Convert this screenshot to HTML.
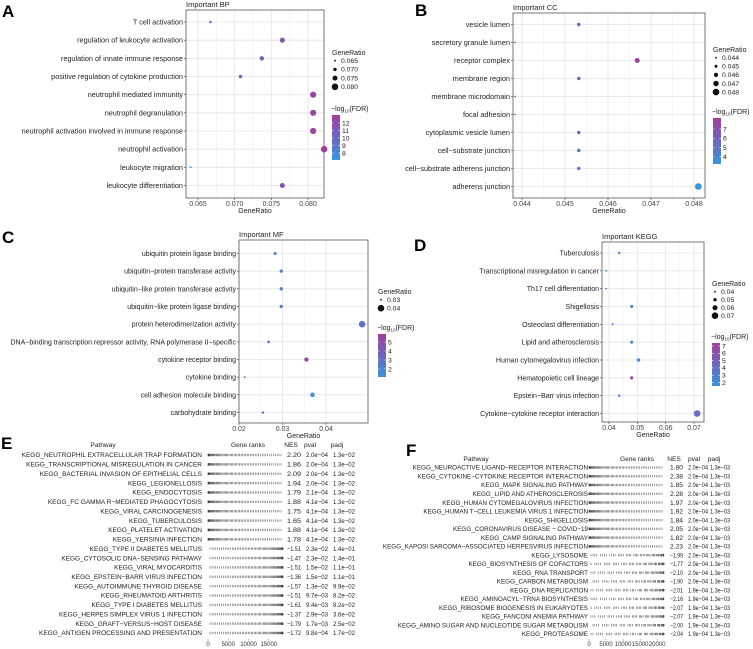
<!DOCTYPE html>
<html><head><meta charset="utf-8"><style>
html,body{margin:0;padding:0;background:#fff;}
svg{display:block;font-family:"Liberation Sans",Arial,sans-serif;}
</style></head><body>
<svg id="fig" width="753" height="649" viewBox="0 0 753 649" xmlns="http://www.w3.org/2000/svg">
<defs>
<linearGradient id="cg" x1="0" y1="1" x2="0" y2="0">
<stop offset="0" stop-color="#3a95db"/><stop offset="0.5" stop-color="#6b67c2"/><stop offset="1" stop-color="#a33d9c"/>
</linearGradient>
</defs>
<g font-weight="bold" font-size="17" fill="#000">
<text x="2" y="17">A</text>
<text x="415" y="16">B</text>
<text x="2" y="243">C</text>
<text x="414" y="251">D</text>
<text x="1" y="449">E</text>
<text x="406" y="456">F</text>
</g>
</svg>
<script>
// ---- Panel A (BP) ----
const aTerms=["T cell activation","regulation of leukocyte activation","regulation of innate immune response","positive regulation of cytokine production","neutrophil mediated immunity","neutrophil degranulation","neutrophil activation involved in immune response","neutrophil activation","leukocyte migration","leukocyte differentiation"];
const aRatio=[0.0667,0.0765,0.0737,0.0708,0.0807,0.0807,0.0807,0.0822,0.0640,0.0765];
const aFdr=[9,11.5,11,10,12.5,12.5,12.5,13,7.5,11.5];
const aTicks=[0.065,0.070,0.075,0.080];
const aSizeLeg=["0.065","0.070","0.075","0.080"];
const aColLeg=["12","11","10","9","8"];
// ---- Panel B (CC) ----
const bTerms=["vesicle lumen","secretory granule lumen","receptor complex","membrane region","membrane microdomain","focal adhesion","cytoplasmic vesicle lumen","cell−substrate junction","cell−substrate adherens junction","adherens junction"];
const bRatio=[0.04532,0.04384,0.04668,0.04532,0.04384,0.04384,0.04532,0.04532,0.04532,0.0481];
const bFdr=[5.5,5,7.5,5.5,5,4.5,5.5,4.5,4.5,3];
const bTicks=[0.044,0.045,0.046,0.047,0.048];
const bSizeLeg=["0.044","0.045","0.046","0.047","0.048"];
const bColLeg=["7","6","5","4"];
// ---- Panel C (MF) ----
const cTerms=["ubiquitin protein ligase binding","ubiquitin−protein transferase activity","ubiquitin−like protein transferase activity","ubiquitin−like protein ligase binding","protein heterodimerization activity","DNA−binding transcription repressor activity, RNA polymerase II−specific","cytokine receptor binding","cytokine binding","cell adhesion molecule binding","carbohydrate binding"];
const cRatio=[0.0283,0.0297,0.0297,0.0297,0.0483,0.0268,0.0355,0.0213,0.0369,0.0255];
const cFdr=[2.5,2.5,2.5,2.5,3,3,5.5,5,1.5,2.5];
const cTicks=[0.02,0.03,0.04];
const cSizeLeg=["0.03","0.04"];
const cColLeg=["5","4","3","2"];
// ---- Panel D (KEGG) ----
const dTerms=["Tuberculosis","Transcriptional misregulation in cancer","Th17 cell differentiation","Shigellosis","Osteoclast differentiation","Lipid and atherosclerosis","Human cytomegalovirus infection","Hematopoietic cell lineage","Epstein−Barr virus infection","Cytokine−cytokine receptor interaction"];
const dRatio=[0.0436,0.039,0.039,0.048,0.0413,0.048,0.0504,0.048,0.0436,0.0711];
const dFdr=[2.5,2,3,2.5,3.5,2.5,2,6.5,2.5,4];
const dTicks=[0.04,0.05,0.06,0.07];
const dSizeLeg=["0.04","0.05","0.06","0.07"];
const dColLeg=["7","6","5","4","3","2"];
// ---- Panel E (GSEA table) ----
const ePath=["KEGG_NEUTROPHIL EXTRACELLULAR TRAP FORMATION","KEGG_TRANSCRIPTIONAL MISREGULATION IN CANCER","KEGG_BACTERIAL INVASION OF EPITHELIAL CELLS","KEGG_LEGIONELLOSIS","KEGG_ENDOCYTOSIS","KEGG_FC GAMMA R−MEDIATED PHAGOCYTOSIS","KEGG_VIRAL CARCINOGENESIS","KEGG_TUBERCULOSIS","KEGG_PLATELET ACTIVATION","KEGG_YERSINIA INFECTION","KEGG_TYPE II DIABETES MELLITUS","KEGG_CYTOSOLIC DNA−SENSING PATHWAY","KEGG_VIRAL MYOCARDITIS","KEGG_EPSTEIN−BARR VIRUS INFECTION","KEGG_AUTOIMMUNE THYROID DISEASE","KEGG_RHEUMATOID ARTHRITIS","KEGG_TYPE I DIABETES MELLITUS","KEGG_HERPES SIMPLEX VIRUS 1 INFECTION","KEGG_GRAFT−VERSUS−HOST DISEASE","KEGG_ANTIGEN PROCESSING AND PRESENTATION"];
const eNes=["2.20","1.86","2.09","1.94","1.79","1.88","1.75","1.65","1.88","1.78","−1.51","−1.47","−1.51","−1.36","−1.57","−1.51","−1.61","−1.37","−1.79","−1.72"];
const ePval=["2.0e−04","2.0e−04","2.0e−04","2.0e−04","2.1e−04","4.1e−04","4.1e−04","4.1e−04","4.1e−04","4.1e−04","2.3e−02","2.3e−02","1.5e−02","1.5e−02","1.3e−02","9.7e−03","9.4e−03","2.9e−03","1.7e−03","9.8e−04"];
const ePadj=["1.3e−02","1.3e−02","1.3e−02","1.3e−02","1.3e−02","1.3e−02","1.3e−02","1.3e−02","1.3e−02","1.3e−02","1.4e−01","1.4e−01","1.1e−01","1.1e−01","9.9e−02","8.2e−02","8.2e−02","3.6e−02","2.5e−02","1.7e−02"];
const eTicks=[0,5000,10000,15000];
// ---- Panel F (GSEA table) ----
const fPath=["KEGG_NEUROACTIVE LIGAND−RECEPTOR INTERACTION","KEGG_CYTOKINE−CYTOKINE RECEPTOR INTERACTION","KEGG_MAPK SIGNALING PATHWAY","KEGG_LIPID AND ATHEROSCLEROSIS","KEGG_HUMAN CYTOMEGALOVIRUS INFECTION","KEGG_HUMAN T−CELL LEUKEMIA VIRUS 1 INFECTION","KEGG_SHIGELLOSIS","KEGG_CORONAVIRUS DISEASE − COVID−19","KEGG_CAMP SIGNALING PATHWAY","KEGG_KAPOSI SARCOMA−ASSOCIATED HERPESVIRUS INFECTION","KEGG_LYSOSOME","KEGG_BIOSYNTHESIS OF COFACTORS","KEGG_RNA TRANSPORT","KEGG_CARBON METABOLISM","KEGG_DNA REPLICATION","KEGG_AMINOACYL−TRNA BIOSYNTHESIS","KEGG_RIBOSOME BIOGENESIS IN EUKARYOTES","KEGG_FANCONI ANEMIA PATHWAY","KEGG_AMINO SUGAR AND NUCLEOTIDE SUGAR METABOLISM","KEGG_PROTEASOME"];
const fNes=["1.80","2.38","1.85","2.28","1.97","1.92","1.84","2.05","1.82","2.23","−1.99","−1.77","−2.10","−1.90","−2.01","−2.16","−2.07","−2.07","−2.00","−2.04"];
const fPval=["2.0e−04","2.0e−04","2.0e−04","2.0e−04","2.0e−04","2.0e−04","2.0e−04","2.0e−04","2.0e−04","2.0e−04","2.0e−04","2.0e−04","2.0e−04","2.0e−04","1.9e−04","1.9e−04","1.9e−04","1.9e−04","1.9e−04","1.9e−04"];
const fPadj=["1.3e−03","1.3e−03","1.3e−03","1.3e−03","1.3e−03","1.3e−03","1.3e−03","1.3e−03","1.3e−03","1.3e−03","1.3e−03","1.3e−03","1.3e−03","1.3e−03","1.3e−03","1.3e−03","1.3e−03","1.3e−03","1.3e−03","1.3e−03"];
const fTicks=[0,5000,10000,15000,20000];

const NS="http://www.w3.org/2000/svg";
const svg=document.getElementById('fig');
function mk(tag,attrs,parent,text){const e=document.createElementNS(NS,tag);for(const k in attrs)e.setAttribute(k,attrs[k]);if(text!==undefined)e.textContent=text;(parent||svg).appendChild(e);return e;}
function lerp(a,b,t){return a+(b-a)*t;}
function colorFor(v,lo,hi){
  let t=Math.max(0,Math.min(1,(v-lo)/(hi-lo)));
  const s=[[58,149,219],[107,103,194],[163,61,156]];
  let c;if(t<0.5){const u=t*2;c=s[0].map((x,i)=>Math.round(lerp(x,s[1][i],u)));}else{const u=(t-0.5)*2;c=s[1].map((x,i)=>Math.round(lerp(x,s[2][i],u)));}
  return 'rgb('+c.join(',')+')';
}
function dotPanel(p){
  const g=mk('g',{});
  
  
  const xs=v=>p.x0+(v-p.d0)/(p.d1-p.d0)*(p.x1-p.x0);
  const n=p.terms.length;
  const ys=i=>p.yFirst+i*(p.yLast-p.yFirst)/(n-1);
  mk('rect',{x:p.bx0,y:p.by0,width:p.bx1-p.bx0,height:p.by1-p.by0,fill:'#fff'},g);
  for(let k=0;k<p.ticks.length-1;k++){const mx=xs((p.ticks[k]+p.ticks[k+1])/2);mk('line',{x1:mx,x2:mx,y1:p.by0,y2:p.by1,stroke:'#f0f0f0','stroke-width':0.6},g);}
  p.ticks.forEach(t=>{const x=xs(t);const l=mk('line',{x1:x,x2:x,y1:p.by0,y2:p.by1,stroke:'#e4e4e4','stroke-width':0.8},g);
    mk('line',{x1:x,x2:x,y1:p.by1,y2:p.by1+2,stroke:'#333','stroke-width':0.6},g);
    const tl=mk('text',{x:x,y:p.by1+8,'font-size':7,'text-anchor':'middle',fill:'#444'},g,p.tickFmt(t));});
  p.terms.forEach((t,i)=>{const y=ys(i);
    mk('line',{x1:p.bx0,x2:p.bx1,y1:y,y2:y,stroke:'#e4e4e4','stroke-width':0.8},g);
    mk('line',{x1:p.bx0-2,x2:p.bx0,y1:y,y2:y,stroke:'#333','stroke-width':0.6},g);
    const tl=mk('text',{x:p.bx0-3,y:y+2.5,'font-size':p.fs,'text-anchor':'end',fill:'#222'},g,t);});
  mk('rect',{x:p.bx0,y:p.by0,width:p.bx1-p.bx0,height:p.by1-p.by0,fill:'none',stroke:'#555','stroke-width':0.8},g);
  const rmin=Math.min(...p.ratio),rmax=Math.max(...p.ratio);
  const rad=v=>rmax===rmin?2:0.9+(v-rmin)/(rmax-rmin)*2.4;
  p.ratio.forEach((v,i)=>{const c=mk('circle',{cx:xs(v),cy:ys(i),r:rad(v),fill:colorFor(p.fdr[i],p.cLo,p.cHi)},g);
    
    });
  const tt=mk('text',{x:p.bx0,y:p.by0-3,'font-size':7.5,fill:'#222'},g,p.title);
  const xt=mk('text',{x:(p.bx0+p.bx1)/2,y:p.by1+15,'font-size':7,'text-anchor':'middle',fill:'#222'},g,'GeneRatio');
  const L=p.leg;
  const lg=mk('g',{},g);
  mk('text',{x:L.x,y:L.y,'font-size':7,fill:'#222'},lg,'GeneRatio');
  p.sizeLeg.forEach((s,k)=>{const yy=L.y+8+k*L.sp;mk('circle',{cx:L.x+3,cy:yy-2.3,r:0.9+k*2.4/(p.sizeLeg.length-1),fill:'#111'},lg);mk('text',{x:L.x+9,y:yy,'font-size':6.8,fill:'#222'},lg,s);});
  const ct=mk('text',{x:L.x-1,y:L.cy,'font-size':7,fill:'#222'},lg);ct.innerHTML='−log<tspan font-size="4.5" dy="1.5">10</tspan><tspan dy="-1.5">(FDR)</tspan>';
  mk('rect',{x:L.x,y:L.cy+4,width:8,height:L.ch,fill:'url(#cg)'},lg);
  p.colLeg.forEach((s,k)=>{const yy=L.cy+4+L.cl0+k*L.csp;mk('line',{x1:L.x,x2:L.x+1.5,y1:yy,y2:yy,stroke:'#fff','stroke-width':0.6},lg);mk('line',{x1:L.x+6.5,x2:L.x+8,y1:yy,y2:yy,stroke:'#fff','stroke-width':0.6},lg);mk('text',{x:L.x+10,y:yy+2.3,'font-size':6.8,fill:'#222'},lg,s);});
}
dotPanel({name:'bp',terms:aTerms,ratio:aRatio,fdr:aFdr,ticks:aTicks,sizeLeg:aSizeLeg,colLeg:aColLeg,title:'Important  BP',tickFmt:t=>t.toFixed(3),
 bx0:186,bx1:324,by0:10,by1:198,x0:198,x1:308,d0:0.065,d1:0.080,yFirst:22,yLast:185.5,fs:7.3,cLo:7.5,cHi:13,
 leg:{x:332,y:55,sp:8.7,cy:111,ch:45,cl0:8,csp:7.5}});
dotPanel({name:'cc',terms:bTerms,ratio:bRatio,fdr:bFdr,ticks:bTicks,sizeLeg:bSizeLeg,colLeg:bColLeg,title:'Important  CC',tickFmt:t=>t.toFixed(3),
 bx0:513,bx1:705,by0:13,by1:198,x0:522,x1:694,d0:0.044,d1:0.048,yFirst:24.5,yLast:186.5,fs:7.3,cLo:3,cHi:7.8,
 leg:{x:713,y:52,sp:8.6,cy:114,ch:46,cl0:11,csp:9.3}});
dotPanel({name:'mf',terms:cTerms,ratio:cRatio,fdr:cFdr,ticks:cTicks,sizeLeg:cSizeLeg,colLeg:cColLeg,title:'Important  MF',tickFmt:t=>t.toFixed(2),
 bx0:239,bx1:368,by0:240,by1:423,x0:239,x1:326,d0:0.02,d1:0.04,yFirst:253.5,yLast:412.5,fs:7,cLo:1.3,cHi:5.8,
 leg:{x:378,y:294,sp:8.5,cy:330,ch:43,cl0:8,csp:9}});
dotPanel({name:'kegg',terms:dTerms,ratio:dRatio,fdr:dFdr,ticks:dTicks,sizeLeg:dSizeLeg,colLeg:dColLeg,title:'Important  KEGG',tickFmt:t=>t.toFixed(2),
 bx0:602,bx1:704,by0:242,by1:422,x0:609,x1:694,d0:0.04,d1:0.07,yFirst:253,yLast:413.5,fs:7,cLo:1.5,cHi:7.5,
 leg:{x:712,y:286,sp:8,cy:339,ch:43,cl0:3,csp:7.3}});

function gseaPanel(p){
  const g=mk('g',{});
  
  
  [['Pathway',p.hP],['Gene ranks',p.hG],['NES',p.hN],['pval',p.hV],['padj',p.hA]].forEach(h=>{
    const t=mk('text',{x:h[1],y:p.hy,'font-size':6.6,'text-anchor':'middle',fill:'#222'},g,h[0]);});
  const n=p.path.length;
  const ys=i=>p.y0+i*(p.y1-p.y0)/(n-1);
  const rx=v=>p.rx0+v/p.rmax*(p.rx1-p.rx0);
  p.path.forEach((s,i)=>{const y=ys(i);
    const t=mk('text',{x:p.lx,y:y+2.2,'font-size':p.fs,'text-anchor':'end',fill:'#222'},g,s);
    mk('text',{x:p.nx,y:y+2.2,'font-size':p.nfs,fill:'#222',textLength:p.nw,lengthAdjust:'spacingAndGlyphs'},g,p.nes[i]);
    mk('text',{x:p.vx,y:y+2.2,'font-size':p.nfs,fill:'#222',textLength:p.vw,lengthAdjust:'spacingAndGlyphs'},g,p.pval[i]);
    mk('text',{x:p.ax,y:y+2.2,'font-size':p.nfs,fill:'#222',textLength:p.vw,lengthAdjust:'spacingAndGlyphs'},g,p.padj[i]);
    const pos=parseFloat(p.nes[i].replace('−','-'))>0;
    let d='';const cnt=60;
    for(let k=0;k<cnt;k++){const f=((k*37+i*11)%cnt)/cnt;const u=pos?Math.pow(f,1.6):1-Math.pow(f,1.6);
      if(((k*13+i*7)%5)===0&&i>=10&&p.sparse)continue;
      const x=rx(u*p.rmax);d+='M'+x.toFixed(1)+' '+(y-1.2)+'v2.4';}
    const bc=mk('path',{d:d,stroke:'#222','stroke-width':0.45,fill:'none'},g);
  });
  p.ticks.forEach(t=>{const x=rx(t);mk('line',{x1:x,x2:x,y1:p.ty-7,y2:p.ty-5.5,stroke:'#555','stroke-width':0.5},g);
    const tl=mk('text',{x:x,y:p.ty,'font-size':6,'text-anchor':'middle',fill:'#333'},g,String(t));});
}
gseaPanel({name:'e',path:ePath,nes:eNes,pval:ePval,padj:ePadj,ticks:eTicks,hy:447,hP:103,hG:248,hN:291,hV:310,hA:337,fs:6.5,nfs:6.3,nw:14,vw:22,
 y0:455,y1:633,lx:202,nx:287,vx:306,ax:333,rx0:208,rx1:283,rmax:18500,ty:646,sparse:false});
gseaPanel({name:'f',path:fPath,nes:fNes,pval:fPval,padj:fPadj,ticks:fTicks,hy:461,hP:476,hG:637,hN:674,hV:694,hA:714,fs:6.3,nfs:6.2,nw:13,vw:20,
 y0:467.5,y1:634,lx:588,nx:670,vx:688,ax:710,rx0:589,rx1:664,rmax:22000,ty:646,sparse:true});
</script>
</body></html>
